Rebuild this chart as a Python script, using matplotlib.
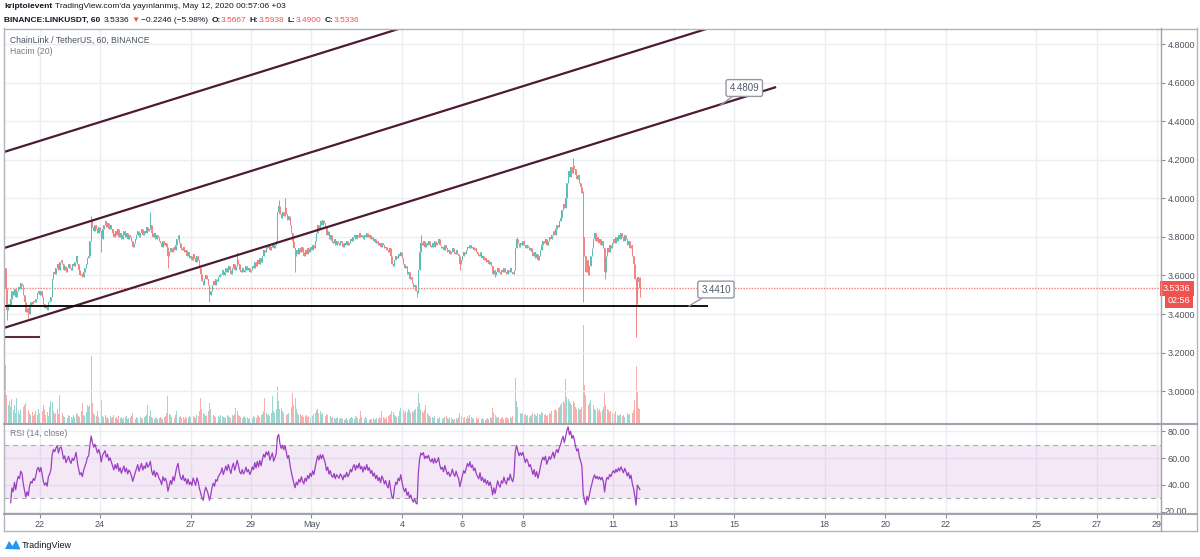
"LINK/USDT 1h chart with channel lines, volume and RSI (TradingView snapshot)"
import matplotlib
matplotlib.use('Agg')
import matplotlib.pyplot as plt
import matplotlib.dates as mdates
import numpy as np
import pandas as pd
from matplotlib.lines import Line2D
from matplotlib.patches import Polygon
from matplotlib.transforms import Bbox, blended_transform_factory

# ---------------- data ----------------
START = '2020-04-20 21:00'   # first hourly bar
FIRST_OPEN = 3.64

CLOSES = [
    3.53, 3.42, 3.45,  # Apr 20 (21-23h)
    3.44, 3.48, 3.52, 3.50, 3.53, 3.49, 3.52, 3.54, 3.53, 3.56, 3.55, 3.50, 3.46, 3.41, 3.43, 3.40, 3.44, 3.46, 3.45, 3.47, 3.46, 3.48, 3.51, 3.52,  # Apr 21
    3.50, 3.52, 3.49, 3.45, 3.43, 3.44, 3.42, 3.46, 3.47, 3.49, 3.58, 3.62, 3.61, 3.64, 3.66, 3.63, 3.67, 3.68, 3.66, 3.63, 3.65, 3.62, 3.64, 3.66,  # Apr 22
    3.64, 3.63, 3.66, 3.65, 3.67, 3.70, 3.66, 3.63, 3.60, 3.61, 3.59, 3.62, 3.64, 3.66, 3.69, 3.70, 3.78, 3.88, 3.85, 3.83, 3.86, 3.84, 3.82, 3.85,  # Apr 23
    3.83, 3.79, 3.84, 3.86, 3.88, 3.85, 3.87, 3.84, 3.86, 3.84, 3.82, 3.80, 3.83, 3.81, 3.84, 3.80, 3.82, 3.79, 3.81, 3.83, 3.80, 3.82, 3.79, 3.81,  # Apr 24
    3.80, 3.78, 3.75, 3.77, 3.79, 3.81, 3.83, 3.80, 3.82, 3.84, 3.81, 3.83, 3.82, 3.85, 3.83, 3.84, 3.86, 3.82, 3.80, 3.82, 3.79, 3.81, 3.80, 3.78,  # Apr 25
    3.77, 3.75, 3.78, 3.76, 3.77, 3.75, 3.70, 3.72, 3.74, 3.72, 3.75, 3.73, 3.76, 3.79, 3.81, 3.77, 3.74, 3.73, 3.75, 3.72, 3.73, 3.70, 3.72, 3.69,  # Apr 26
    3.70, 3.68, 3.71, 3.69, 3.67, 3.70, 3.68, 3.64, 3.61, 3.57, 3.55, 3.58, 3.60, 3.58, 3.55, 3.50, 3.52, 3.55, 3.57, 3.55, 3.58, 3.57, 3.59, 3.60,  # Apr 27
    3.61, 3.63, 3.60, 3.62, 3.64, 3.62, 3.65, 3.63, 3.61, 3.64, 3.66, 3.63, 3.65, 3.68, 3.66, 3.63, 3.62, 3.64, 3.62, 3.63, 3.65, 3.63, 3.64, 3.62,  # Apr 28
    3.63, 3.65, 3.64, 3.67, 3.65, 3.68, 3.66, 3.69, 3.67, 3.70, 3.73, 3.72, 3.75, 3.74, 3.76, 3.73, 3.75, 3.77, 3.74, 3.76, 3.78, 3.93, 3.96, 3.92,  # Apr 29
    3.90, 3.93, 3.91, 3.95, 3.92, 3.89, 3.91, 3.86, 3.82, 3.78, 3.74, 3.70, 3.73, 3.71, 3.74, 3.72, 3.75, 3.72, 3.70, 3.73, 3.71, 3.74, 3.72, 3.75,  # Apr 30
    3.73, 3.76, 3.74, 3.78, 3.82, 3.86, 3.84, 3.88, 3.86, 3.89, 3.87, 3.85, 3.81, 3.83, 3.79, 3.81, 3.78, 3.77, 3.79, 3.76, 3.78, 3.77, 3.76, 3.78,  # May 1
    3.77, 3.75, 3.77, 3.76, 3.78, 3.76, 3.77, 3.79, 3.78, 3.80, 3.81, 3.79, 3.81, 3.80, 3.82, 3.80, 3.81, 3.79, 3.81, 3.80, 3.82, 3.80, 3.81, 3.79,  # May 2
    3.80, 3.78, 3.79, 3.77, 3.78, 3.76, 3.77, 3.75, 3.77, 3.76, 3.74, 3.75, 3.73, 3.72, 3.74, 3.70, 3.66, 3.65, 3.68, 3.70, 3.69, 3.71, 3.70, 3.72,  # May 3
    3.69, 3.66, 3.64, 3.65, 3.61, 3.62, 3.58, 3.59, 3.56, 3.54, 3.55, 3.52, 3.51, 3.63, 3.72, 3.77, 3.76, 3.78, 3.75, 3.77, 3.76, 3.78, 3.76, 3.75,  # May 4
    3.77, 3.75, 3.78, 3.76, 3.77, 3.79, 3.76, 3.74, 3.75, 3.73, 3.76, 3.74, 3.72, 3.73, 3.71, 3.72, 3.74, 3.72, 3.71, 3.73, 3.71, 3.70, 3.66, 3.68,  # May 5
    3.70, 3.72, 3.71, 3.73, 3.75, 3.74, 3.76, 3.74, 3.75, 3.73, 3.74, 3.72, 3.71, 3.70, 3.72, 3.69, 3.70, 3.68, 3.69, 3.67, 3.68, 3.66, 3.67, 3.65,  # May 6
    3.61, 3.63, 3.60, 3.62, 3.64, 3.62, 3.61, 3.63, 3.62, 3.64, 3.62, 3.61, 3.63, 3.62, 3.64, 3.62, 3.61, 3.63, 3.74, 3.79, 3.77, 3.75, 3.77, 3.76,  # May 7
    3.78, 3.76, 3.74, 3.76, 3.75, 3.73, 3.74, 3.72, 3.70, 3.72, 3.69, 3.71, 3.68, 3.70, 3.73, 3.76, 3.78, 3.77, 3.79, 3.76, 3.78, 3.80, 3.79, 3.81,  # May 8
    3.83, 3.81, 3.84, 3.86, 3.85, 3.88, 3.90, 3.94, 3.97, 3.95, 4.00, 4.08, 4.14, 4.11, 4.16, 4.13, 4.17, 4.15, 4.12, 4.10, 4.12, 4.08, 4.06, 4.03,  # May 9
    3.80, 3.70, 3.62, 3.68, 3.60, 3.65, 3.70, 3.74, 3.79, 3.82, 3.78, 3.80, 3.77, 3.79, 3.76, 3.78, 3.74, 3.62, 3.70, 3.74, 3.72, 3.76, 3.74, 3.77,  # May 10
    3.79, 3.77, 3.80, 3.78, 3.81, 3.79, 3.82, 3.80, 3.78, 3.81, 3.79, 3.76, 3.78, 3.74, 3.76, 3.70, 3.66, 3.58, 3.45, 3.59, 3.5667, 3.5336,  # May 11
]

# volume in thousands of LINK
VOLUMES = [
    2900, 1400, 900,
    1100, 800, 1200, 650, 900, 500, 1250, 600, 450, 700, 550, 800, 900, 1000, 700, 650, 500, 400, 550, 350, 450, 600, 400, 700,
    500, 450, 600, 900, 700, 400, 550, 350, 800, 1100, 1050, 600, 450, 500, 700, 450, 1400, 800, 500, 350, 300, 450, 250, 400,
    350, 300, 250, 400, 300, 500, 450, 350, 300, 600, 1000, 400, 350, 550, 900, 800, 900, 3350, 1000, 500, 400, 350, 600, 300,
    450, 1150, 350, 300, 400, 250, 300, 200, 350, 250, 300, 400, 250, 300, 200, 350, 250, 300, 200, 250, 300, 350, 200, 250,
    300, 350, 500, 250, 200, 300, 250, 200, 300, 250, 200, 300, 350, 400, 900, 350, 650, 300, 250, 200, 300, 250, 200, 250,
    300, 250, 200, 300, 350, 500, 1350, 450, 400, 300, 350, 250, 400, 600, 500, 300, 350, 250, 300, 200, 300, 250, 300, 350,
    300, 250, 350, 300, 250, 400, 350, 600, 1250, 700, 500, 450, 350, 400, 600, 1000, 700, 500, 400, 350, 300, 400, 350, 300,
    400, 350, 300, 250, 300, 400, 350, 300, 250, 400, 350, 450, 750, 600, 400, 350, 300, 250, 300, 350, 250, 300, 200, 250,
    300, 250, 350, 300, 250, 400, 350, 300, 400, 450, 600, 1250, 500, 400, 450, 350, 500, 1350, 600, 500, 700, 1800, 1100, 700,
    750, 600, 500, 650, 400, 450, 500, 600, 800, 1500, 900, 1250, 700, 500, 400, 450, 350, 400, 300, 350, 400, 300, 350, 300,
    400, 350, 450, 500, 650, 700, 500, 600, 450, 500, 400, 350, 450, 400, 300, 350, 250, 300, 250, 200, 250, 300, 200, 250,
    250, 200, 150, 200, 250, 150, 200, 250, 300, 250, 200, 350, 300, 250, 200, 600, 300, 250, 200, 300, 250, 200, 150, 200,
    200, 250, 150, 200, 250, 200, 300, 250, 600, 300, 250, 200, 300, 350, 400, 450, 600, 550, 400, 350, 300, 350, 600, 750,
    800, 650, 500, 600, 550, 700, 650, 500, 600, 550, 650, 700, 800, 1500, 1000, 700, 600, 500, 650, 900, 500, 400, 350, 300,
    300, 250, 350, 300, 250, 200, 300, 250, 200, 250, 300, 350, 250, 200, 300, 250, 200, 150, 200, 250, 200, 300, 500, 350,
    300, 250, 300, 200, 350, 250, 400, 300, 250, 200, 250, 300, 200, 250, 300, 200, 250, 200, 150, 200, 250, 200, 300, 250,
    750, 500, 400, 300, 250, 300, 200, 250, 300, 200, 250, 300, 250, 200, 300, 250, 350, 1150, 2250, 1100, 800, 600, 500, 450,
    500, 400, 450, 350, 400, 300, 350, 400, 500, 450, 400, 350, 500, 450, 400, 550, 500, 400, 450, 350, 400, 500, 450, 600,
    900, 650, 700, 600, 750, 800, 900, 1000, 1100, 1000, 2200, 1300, 1200, 1100, 1000, 900, 1100, 1000, 800, 700, 750, 650, 700, 800,
    4900, 1900, 1400, 1100, 900, 1000, 1150, 800, 900, 700, 650, 750, 600, 700, 550, 650, 800, 1500, 900, 700, 650, 550, 600, 500,
    500, 450, 600, 400, 350, 400, 450, 350, 400, 300, 350, 500, 400, 450, 350, 500, 650, 1150, 2850, 1600, 750, 700,
]

# bars whose wicks stick out clearly
HIGH_WICKS = {
    '2020-04-23 17:00': 3.91, '2020-04-25 16:00': 3.93, '2020-04-28 13:00': 3.72,
    '2020-04-29 22:00': 3.99, '2020-04-30 03:00': 4.00, '2020-05-04 15:00': 3.81,
    '2020-05-07 19:00': 3.80, '2020-05-09 16:00': 4.21, '2020-05-10 00:00': 4.04,
    '2020-05-11 21:00': 3.5938,
}
LOW_WICKS = {
    '2020-04-20 22:00': 3.37, '2020-04-21 15:00': 3.38, '2020-04-24 01:00': 3.72,
    '2020-04-26 06:00': 3.64, '2020-04-27 15:00': 3.46, '2020-04-30 11:00': 3.62,
    '2020-05-04 12:00': 3.49, '2020-05-05 22:00': 3.63, '2020-05-07 02:00': 3.59,
    '2020-05-10 00:00': 3.46, '2020-05-10 17:00': 3.58, '2020-05-11 18:00': 3.28,
    '2020-05-11 21:00': 3.49,
}

LAST_PRICE = 3.5336

# drawings on the chart: (time, price) anchors
CHANNEL_T = ['2020-04-20 19:40', '2020-05-16 09:20']
CHANNEL_LOW = [3.328, 4.577]
CHANNEL_MID = [3.742, 4.991]
CHANNEL_TOP = [4.240, 5.489]
SUPPORT_T = ['2020-04-20 19:40', '2020-05-14 02:30']
SUPPORT_P = 3.4410
OLD_LEVEL_T = ['2020-04-20 19:40', '2020-04-21 23:30']
OLD_LEVEL_P = 3.281
CALLOUTS = [
    # text, pointer time, pointer price, box time, box price
    ('4.4809', '2020-05-14 12:45', 4.4809, '2020-05-15 08:00', 4.572),
    ('3.4410', '2020-05-13 12:00', 3.4410, '2020-05-14 09:30', 3.527),
]

TICK_DATES = ['2020-04-22', '2020-04-24', '2020-04-27', '2020-04-29', '2020-05-01',
              '2020-05-04', '2020-05-06', '2020-05-08', '2020-05-11', '2020-05-13',
              '2020-05-15', '2020-05-18', '2020-05-20', '2020-05-22', '2020-05-25',
              '2020-05-27', '2020-05-29']
TICK_LABELS = ['22', '24', '27', '29', 'May', '4', '6', '8', '11', '13',
               '15', '18', '20', '22', '25', '27', '29']
PRICE_TICKS = [3.0, 3.2, 3.4, 3.6, 3.8, 4.0, 4.2, 4.4, 4.6, 4.8]
RSI_TICKS = [40, 60, 80]

assert len(CLOSES) == len(VOLUMES) == 505

# ---------------- styling ----------------
UP, DOWN = '#5cbdb3', '#f28583'
UP_V, DOWN_V = '#9bd6d0', '#f8b0ae'
RED = '#ef5350'
LINE_C = '#4d1a33'
GRID_C = '#ebeff4'
FRAME_C = '#b2b5bc'
TXT_C = '#50535e'
BLACK = '#131722'

plt.rcParams['font.family'] = ['Liberation Sans', 'DejaVu Sans']

W, H = 1200, 557


def px_rect(x0, y0, x1, y1):
    return [x0 / W, 1 - y1 / H, (x1 - x0) / W, (y1 - y0) / H]


# ---------------- derived series ----------------
n = len(CLOSES)
times = pd.date_range(START, periods=n, freq='h')
t = mdates.date2num(times)
closes = np.array(CLOSES)
opens = np.r_[FIRST_OPEN, closes[:-1]]
highs = np.maximum(opens, closes)
lows = np.minimum(opens, closes)
pos = {s: i for i, s in enumerate(times.strftime('%Y-%m-%d %H:%M'))}
for k, v in HIGH_WICKS.items():
    highs[pos[k]] = v
for k, v in LOW_WICKS.items():
    lows[pos[k]] = v
up = closes >= opens

# RSI(14) on close
delta = pd.Series(np.r_[FIRST_OPEN, closes]).diff().iloc[1:].reset_index(drop=True)
gain = delta.clip(lower=0).ewm(alpha=1 / 14, min_periods=5).mean()
loss = (-delta.clip(upper=0)).ewm(alpha=1 / 14, min_periods=5).mean()
rsi = 100 - 100 / (1 + gain / loss)

day0 = mdates.date2num(pd.Timestamp('2020-04-22'))
x_left = day0 - 35.6 / 30.2
x_right = day0 + 1121.4 / 30.2

# ---------------- figure ----------------
fig = plt.figure(figsize=(12, 5.57), dpi=100)
fig.patch.set_facecolor('white')

ax = fig.add_axes(px_rect(4, 29, 1161, 423))
vax = ax.twinx()
rax = fig.add_axes(px_rect(4, 424, 1161, 514))

vax.set_zorder(0)
ax.set_zorder(1)
ax.patch.set_visible(False)

tick_nums = mdates.date2num(pd.to_datetime(TICK_DATES))

# volume
vax.bar(t, VOLUMES, width=0.75 / 24, color=np.where(up, UP_V, DOWN_V), linewidth=0)
vax.set_ylim(0, 19700)
vax.axis('off')

# candles
cols = np.where(up, UP, DOWN)
ax.vlines(t, lows, highs, colors=cols, linewidth=0.7, zorder=3)
ax.bar(t, np.abs(closes - opens), bottom=np.minimum(opens, closes), width=0.75 / 24,
       color=cols, linewidth=0, zorder=3)

# current price line
ax.axhline(LAST_PRICE, color=RED, linestyle=(0, (1, 1)), linewidth=1, alpha=0.75, zorder=2)

# drawings
ct = mdates.date2num(pd.to_datetime(CHANNEL_T))
for ps in (CHANNEL_LOW, CHANNEL_MID, CHANNEL_TOP):
    ax.plot(ct, ps, color=LINE_C, linewidth=1.6, zorder=4, solid_capstyle='butt')
st = mdates.date2num(pd.to_datetime(SUPPORT_T))
ax.plot(st, [SUPPORT_P, SUPPORT_P], color='#111111', linewidth=1.4, zorder=4)
ot = mdates.date2num(pd.to_datetime(OLD_LEVEL_T))
ax.plot(ot, [OLD_LEVEL_P, OLD_LEVEL_P], color='#5a2a3e', linewidth=1.5, zorder=4)

for txt, pt, pp, bt, bp in CALLOUTS:
    ax.annotate(txt, xy=(mdates.date2num(pd.Timestamp(pt)), pp),
                xytext=(mdates.date2num(pd.Timestamp(bt)), bp),
                ha='center', va='center', fontsize=7, color='#505a6b', zorder=6,
                bbox=dict(boxstyle='round,pad=0.35,rounding_size=0.2', fc='white', ec='#9598a1', lw=1),
                arrowprops=dict(arrowstyle='-', color='#9598a1', lw=1, shrinkA=0, shrinkB=0))

ax.set_xlim(x_left, x_right)
ax.set_ylim(2.835, 4.878)
ax.set_xticks(tick_nums)
ax.set_yticks(PRICE_TICKS)
ax.yaxis.tick_right()
ax.yaxis.set_major_formatter(plt.FormatStrFormatter('%.4f'))
ax.tick_params(axis='x', length=0, labelbottom=False)
ax.tick_params(axis='y', length=3, color='#8a8d96', labelsize=6.5, labelcolor=TXT_C, pad=2)
ax.grid(True, color=GRID_C, linewidth=1)
ax.set_axisbelow(True)
for s in ax.spines.values():
    s.set_visible(False)

ax.text(6 / 1157, 1 - 11 / 394, 'ChainLink / TetherUS, 60, BINANCE', transform=ax.transAxes,
        fontsize=6.2, color='#4c525e', va='center', ha='left')
ax.text(6 / 1157, 1 - 23 / 394, 'Hacim (20)', transform=ax.transAxes,
        fontsize=6.2, color='#787b86', va='center', ha='left')

# price label on the axis
bt = blended_transform_factory(ax.transAxes, ax.transData)
ax.text(1 + 2 / 1157, LAST_PRICE, '3.5336', transform=bt, fontsize=6.5, color='white',
        va='center', ha='left', clip_on=False, zorder=7,
        bbox=dict(boxstyle='square,pad=0.35', fc=RED, ec='none'))
ax.text(1 + 7 / 1157, LAST_PRICE - 12.5 / 192.9, '02:56', transform=bt, fontsize=6.5, color='white',
        va='center', ha='left', clip_on=False, zorder=7,
        bbox=dict(boxstyle='square,pad=0.3', fc=RED, ec='none'))

# RSI pane
rax.fill_between([x_left, x_right], 30, 70, color='#9c27b0', alpha=0.1, linewidth=0)
rax.axhline(70, color='#a9a9ad', linestyle=(0, (4, 4)), linewidth=0.8)
rax.axhline(30, color='#a9a9ad', linestyle=(0, (4, 4)), linewidth=0.8)
rax.plot(t, rsi, color='#9b3fc2', linewidth=0.9)
rax.set_xlim(x_left, x_right)
rax.set_ylim(18.5, 85.2)
rax.set_yticks(RSI_TICKS + [20])
rax.set_yticklabels(['%.2f' % v for v in RSI_TICKS] + [''])
rax.yaxis.tick_right()
rax.tick_params(axis='y', length=3, color='#8a8d96', labelsize=6.5, labelcolor=TXT_C, pad=2)
rax.set_xticks(tick_nums)
rax.set_xticklabels(TICK_LABELS)
rax.tick_params(axis='x', length=3, color='#8a8d96', labelsize=6.5, labelcolor=TXT_C, pad=1.5)
rax.grid(True, color=GRID_C, linewidth=1)
rax.set_axisbelow(True)
for s in rax.spines.values():
    s.set_visible(False)
rax.text(6 / 1157, 1 - 10 / 90, 'RSI (14, close)', transform=rax.transAxes,
         fontsize=6.2, color='#787b86', va='center', ha='left')
low_lab = rax.text(1 + 4 / 1157, 20, '20.00', transform=blended_transform_factory(rax.transAxes, rax.transData),
                   fontsize=6.5, color=TXT_C, va='center', ha='left')
low_lab.set_clip_box(Bbox([[1161, 43], [1197, 133]]))
low_lab.set_clip_on(True)


# frame and pane separators (figure pixels)
def fline(x0, y0, x1, y1, color=FRAME_C, lw=1.0):
    fig.add_artist(Line2D([x0 / W, x1 / W], [1 - y0 / H, 1 - y1 / H], color=color, linewidth=lw))


fline(4, 28.5, 1197, 28.5)
fline(4, 531, 1197, 531)
fline(4, 28, 4, 531)
fline(1197, 28, 1197, 531)
fline(1161, 28, 1161, 531, color='#a0a3ab')
fline(4, 423.5, 1197, 423.5, color='#a0a3ab', lw=1.5)
fline(4, 514, 1197, 514, color='#a0a3ab', lw=1.5)

# header
renderer = fig.canvas.get_renderer()


def text_run(x, y, parts, size):
    for s, weight, color, gap in parts:
        tx = fig.text(x / W, 1 - y / H, s, fontsize=size, fontweight=weight, color=color,
                      family=['Liberation Sans', 'DejaVu Sans'], va='center', ha='left')
        x += tx.get_window_extent(renderer).width + gap


text_run(4, 7, [('kriptolevent', 'bold', BLACK, 3),
                ("TradingView.com'da yayınlanmış, May 12, 2020 00:57:06 +03", 'normal', BLACK, 0)], 6)
text_run(4, 20, [('BINANCE:LINKUSDT, 60', 'bold', BLACK, 3),
                 ('3.5336', 'normal', BLACK, 2),
                 ('▼', 'normal', RED, 2),
                 ('−0.2246 (−5.98%)', 'normal', BLACK, 3),
                 ('O:', 'bold', BLACK, 0.5), ('3.5667', 'normal', RED, 3),
                 ('H:', 'bold', BLACK, 0.5), ('3.5938', 'normal', RED, 3),
                 ('L:', 'bold', BLACK, 0.5), ('3.4900', 'normal', RED, 3),
                 ('C:', 'bold', BLACK, 0.5), ('3.5336', 'normal', RED, 0)], 6)

# logo
fig.add_artist(Polygon([(5 / W, 1 - 549 / H), (9 / W, 1 - 541 / H), (12.5 / W, 1 - 546 / H),
                        (16 / W, 1 - 540 / H), (20 / W, 1 - 548 / H), (20 / W, 1 - 549.5 / H)],
                       closed=True, fc='#2196f3', ec='none', transform=fig.transFigure))
fig.text(22 / W, 1 - 546 / H, 'TradingView', fontsize=6.5, color=BLACK, va='center', ha='left')

fig.savefig('out.png', dpi=100)
